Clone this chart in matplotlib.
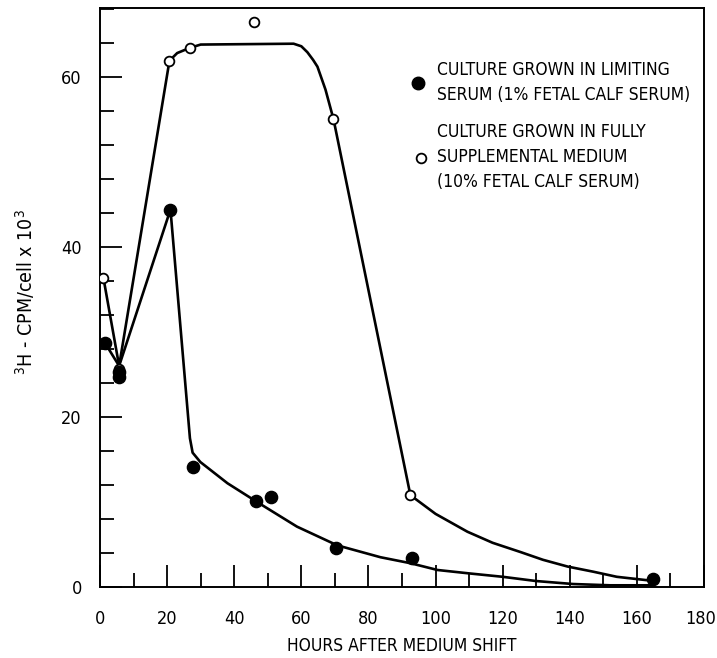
import matplotlib
matplotlib.use("Agg")
import matplotlib.pyplot as plt
from matplotlib import font_manager as fm
from matplotlib.lines import Line2D
from matplotlib.ticker import MultipleLocator, FuncFormatter

# measured points (hours, 3H cpm/cell x 10^3)
open_x = [1, 5.6, 20.7, 26.7, 46.0, 69.4, 92.5]
open_y = [36.4, 25.6, 61.9, 63.4, 66.4, 55.0, 10.8]
filled_x = [1.5, 5.6, 5.6, 21.0, 27.8, 46.6, 51.0, 70.4, 93.0, 164.8]
filled_y = [28.7, 25.3, 24.7, 44.4, 14.1, 10.1, 10.6, 4.6, 3.4, 0.9]

# hand drawn curves
open_curve_x = [1, 5.7, 20.7, 23.0, 26.7, 30.0, 57.7, 60.0, 61.8, 63.5, 64.8,
                67.2, 69.6, 92.5, 100.0, 109.5, 117.0, 125.4, 132.0, 139.4,
                147.0, 154.0, 163.0]
open_curve_y = [36.4, 26.0, 61.9, 62.8, 63.4, 63.8, 63.9, 63.6, 62.9, 62.0, 61.2,
                58.5, 55.0, 10.8, 8.6, 6.5, 5.2, 4.1, 3.2, 2.4,
                1.8, 1.2, 0.8]
filled_curve_x = [1.5, 5.7, 21.0, 26.8, 27.6, 29.9, 38.0, 46.8, 58.7, 70.7,
                  83.6, 92.5, 100.6, 110.0, 120.0, 130.0, 141.0, 152.0, 165.0]
filled_curve_y = [28.7, 26.0, 44.4, 17.5, 15.8, 14.7, 12.2, 10.0, 7.1, 4.9,
                  3.5, 2.8, 2.0, 1.6, 1.2, 0.7, 0.35, 0.2, 0.2]

x_max = 180
legend_lines_filled = ["CULTURE GROWN IN LIMITING", "SERUM (1% FETAL CALF SERUM)"]
legend_lines_open = ["CULTURE GROWN IN FULLY", "SUPPLEMENTAL MEDIUM",
                     "(10% FETAL CALF SERUM)"]

# the original uses a condensed typeface; take one if it is around
fam, stretch, fs = 'Liberation Sans', 'normal', 11
for f in fm.fontManager.ttflist:
    cond = 'ondensed' in str(f.stretch) or 'Narrow' in f.name or 'Condensed' in f.name
    if cond and f.style == 'normal' and f.weight in (400, 'normal', 'regular'):
        fam, stretch, fs = f.name, f.stretch, 12.5
        break
plt.rcParams['font.family'] = [fam, 'DejaVu Sans']
plt.rcParams['font.stretch'] = stretch
plt.rcParams['mathtext.fontset'] = 'custom'
plt.rcParams['mathtext.rm'] = fam

fig = plt.figure(figsize=(7.17, 6.58), dpi=100)
ax = fig.add_axes([100 / 717, 71 / 658, 604 / 717, 579 / 658])

ax.plot(open_curve_x, open_curve_y, color='black', lw=1.9, zorder=2)
ax.plot(filled_curve_x, filled_curve_y, color='black', lw=1.9, zorder=2)
ax.plot(open_x, open_y, 'o', ms=7, mfc='white', mec='black', mew=1.3, zorder=3)
ax.plot(filled_x, filled_y, 'o', ms=8.8, mfc='black', mec='black', zorder=4)

ax.set_xlim(0, x_max)
ax.set_ylim(0, 68.1)
ax.xaxis.set_major_locator(MultipleLocator(20))
ax.xaxis.set_minor_locator(MultipleLocator(10))
ax.yaxis.set_major_locator(MultipleLocator(20))
ax.yaxis.set_minor_locator(MultipleLocator(4))
# last x label sits right at the page edge; drawn separately below
ax.xaxis.set_major_formatter(FuncFormatter(lambda v, p: '' if v >= x_max else f"{v:.0f}"))
ax.tick_params(which='major', direction='in', length=16, width=1.3,
               labelsize=fs + 0.5, top=False, right=False)
ax.tick_params(which='minor', direction='in', length=10, width=1.3,
               top=False, right=False)
ax.tick_params(axis='x', which='major', pad=16.5)
ax.tick_params(axis='y', which='major', pad=13)
for s in ax.spines.values():
    s.set_linewidth(1.4)
ax.annotate(f"{x_max}", xy=(1, 0), xycoords='axes fraction', xytext=(-2.5, -16.5),
            textcoords='offset points', ha='center', va='top', fontsize=fs + 0.5)

ax.set_xlabel("HOURS AFTER MEDIUM SHIFT", fontsize=fs)
ax.xaxis.set_label_coords(0.5, -0.086)
ax.set_ylabel("$^{3}$H - CPM/cell x 10$^{3}$", fontsize=fs + 1.5)
ax.yaxis.set_label_coords(-0.104, 0.51)

# hand made legend
fig.add_artist(Line2D([418 / 717], [1 - 83 / 658], marker='o', ms=9,
                      mfc='black', mec='black', transform=fig.transFigure))
fig.add_artist(Line2D([421 / 717], [1 - 158 / 658], marker='o', ms=7,
                      mfc='white', mec='black', mew=1.3, transform=fig.transFigure))
for i, t in enumerate(legend_lines_filled):
    fig.text(437 / 717, 1 - (70 + 25 * i) / 658, t, fontsize=fs, va='center')
for i, t in enumerate(legend_lines_open):
    fig.text(437 / 717, 1 - (132 + 25 * i) / 658, t, fontsize=fs, va='center')

fig.savefig("out.png", dpi=100)
